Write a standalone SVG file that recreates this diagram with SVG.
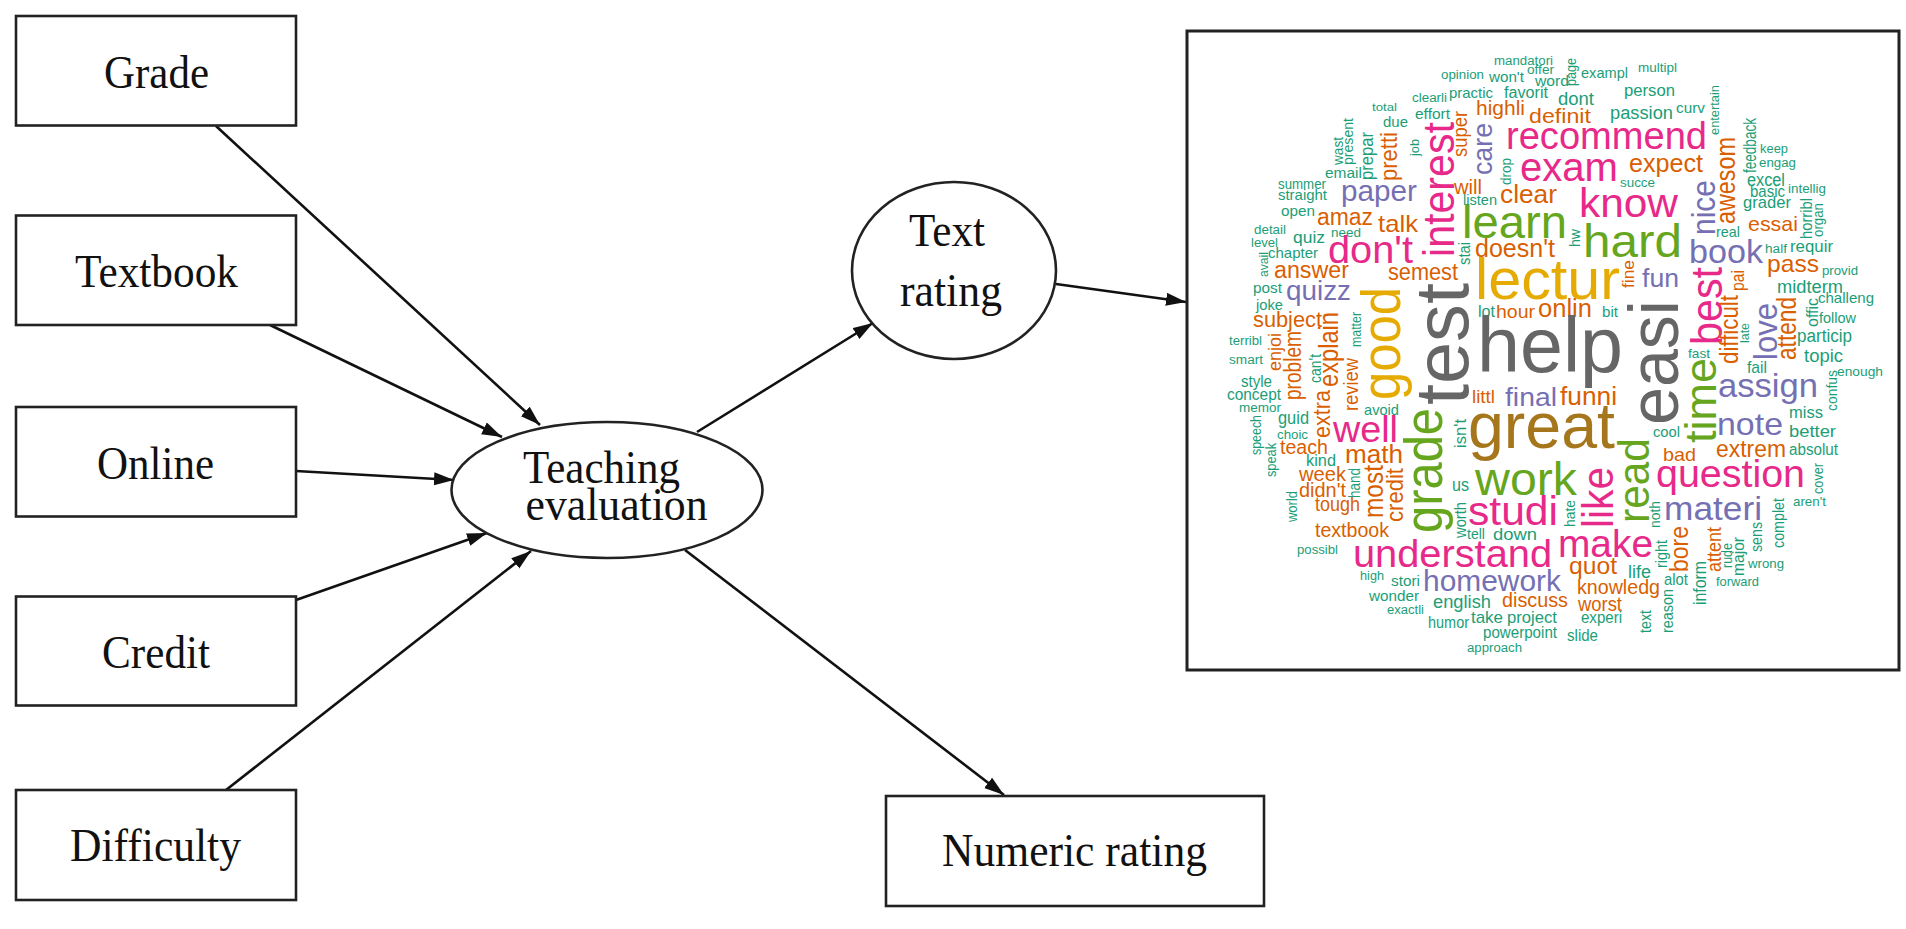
<svg xmlns="http://www.w3.org/2000/svg" width="1906" height="929" viewBox="0 0 1906 929">
<style>
.box{fill:#fff;stroke:#222;stroke-width:2.6}
.lab{font-family:"Liberation Serif","Times New Roman",serif;font-size:46px;fill:#111}
.edge{fill:none;stroke:#111;stroke-width:2.6;marker-end:url(#arrow)}
#wordcloud text{font-family:"Liberation Sans",Arial,sans-serif}
.t{fill:#1B9E77}.o{fill:#D95F02}.p{fill:#7570B3}.k{fill:#E7298A}.g{fill:#66A61E}.y{fill:#E6AB02}.b{fill:#A6761D}.d{fill:#666666}
</style>
<defs>
<marker id="arrow" markerUnits="userSpaceOnUse" markerWidth="22" markerHeight="14" refX="20" refY="6.500" orient="auto"><path d="M0 0L20 6.500L0 13Z" fill="#111"/></marker>
</defs>
<rect width="1906" height="929" fill="#fff"/>
<g id="connectors">
<line class="edge" x1="216" y1="126" x2="540" y2="425"/>
<line class="edge" x1="270" y1="325" x2="502" y2="437"/>
<line class="edge" x1="296" y1="471" x2="454" y2="480"/>
<line class="edge" x1="296" y1="600" x2="487" y2="533"/>
<line class="edge" x1="226" y1="790" x2="531" y2="551"/>
<line class="edge" x1="697" y1="432" x2="873" y2="323"/>
<line class="edge" x1="1056" y1="284" x2="1186" y2="302"/>
<line class="edge" x1="685" y1="550" x2="1004" y2="795"/>
</g>
<g id="grade"><rect class="box" x="16" y="16" width="280" height="109.500"/><text class="lab" x="104" y="88" textLength="105" lengthAdjust="spacingAndGlyphs">Grade</text></g>
<g id="textbook"><rect class="box" x="16" y="215.500" width="280" height="109.500"/><text class="lab" x="75" y="287" textLength="163" lengthAdjust="spacingAndGlyphs">Textbook</text></g>
<g id="online"><rect class="box" x="16" y="407" width="280" height="109.500"/><text class="lab" x="97" y="479" textLength="117" lengthAdjust="spacingAndGlyphs">Online</text></g>
<g id="credit"><rect class="box" x="16" y="596.500" width="280" height="109"/><text class="lab" x="102" y="668" textLength="108" lengthAdjust="spacingAndGlyphs">Credit</text></g>
<g id="difficulty"><rect class="box" x="16" y="790" width="280" height="110"/><text class="lab" x="70" y="861" textLength="171" lengthAdjust="spacingAndGlyphs">Difficulty</text></g>
<g id="teaching-evaluation"><ellipse class="box" cx="607" cy="490" rx="155.500" ry="68"/><text class="lab" x="523" y="483" textLength="157" lengthAdjust="spacingAndGlyphs">Teaching</text><text class="lab" x="525.500" y="520" textLength="182" lengthAdjust="spacingAndGlyphs">evaluation</text></g>
<g id="text-rating"><ellipse class="box" cx="954" cy="270.500" rx="102" ry="88.500"/><text class="lab" x="909" y="246" textLength="76" lengthAdjust="spacingAndGlyphs">Text</text><text class="lab" x="900" y="306" textLength="102" lengthAdjust="spacingAndGlyphs">rating</text></g>
<g id="numeric-rating"><rect class="box" x="886" y="796" width="378" height="110"/><text class="lab" x="942" y="866" textLength="265" lengthAdjust="spacingAndGlyphs">Numeric rating</text></g>
<g id="wordcloud">
<rect x="1187" y="31" width="712" height="639" fill="#fff" stroke="#222" stroke-width="3"/>
<text class="t" x="1494" y="65" font-size="12.500" textLength="59" lengthAdjust="spacingAndGlyphs">mandatori</text>
<text class="t" x="1441" y="79" font-size="12" textLength="43" lengthAdjust="spacingAndGlyphs">opinion</text>
<text class="t" x="1489" y="82" font-size="15" textLength="35" lengthAdjust="spacingAndGlyphs">won't</text>
<text class="t" x="1527" y="74" font-size="12.500" textLength="27" lengthAdjust="spacingAndGlyphs">offer</text>
<text class="t" x="1535" y="86" font-size="15" textLength="34" lengthAdjust="spacingAndGlyphs">word</text>
<text class="t" x="1449" y="98" font-size="15" textLength="44" lengthAdjust="spacingAndGlyphs">practic</text>
<text class="t" x="1504" y="98" font-size="16" textLength="44" lengthAdjust="spacingAndGlyphs">favorit</text>
<text class="t" x="1412" y="102" font-size="12.500" textLength="35" lengthAdjust="spacingAndGlyphs">clearli</text>
<text class="t" x="1372" y="111" font-size="11.500" textLength="25" lengthAdjust="spacingAndGlyphs">total</text>
<text class="t" x="1415" y="119" font-size="15" textLength="35" lengthAdjust="spacingAndGlyphs">effort</text>
<text class="t" x="1383" y="127" font-size="15" textLength="25" lengthAdjust="spacingAndGlyphs">due</text>
<text class="o" x="1476" y="115" font-size="20" textLength="49" lengthAdjust="spacingAndGlyphs">highli</text>
<text class="o" x="1529" y="123" font-size="21" textLength="62" lengthAdjust="spacingAndGlyphs">definit</text>
<text class="k" x="1506" y="149" font-size="38" textLength="201" lengthAdjust="spacingAndGlyphs">recommend</text>
<text class="k" x="1520" y="181" font-size="40" textLength="98" lengthAdjust="spacingAndGlyphs">exam</text>
<text class="o" x="1629" y="172" font-size="25" textLength="74" lengthAdjust="spacingAndGlyphs">expect</text>
<text class="t" x="1558" y="105" font-size="18" textLength="36" lengthAdjust="spacingAndGlyphs">dont</text>
<text class="t" x="1610" y="119" font-size="18" textLength="63" lengthAdjust="spacingAndGlyphs">passion</text>
<text class="t" x="1624" y="96" font-size="17" textLength="51" lengthAdjust="spacingAndGlyphs">person</text>
<text class="t" x="1676" y="113" font-size="15" textLength="29" lengthAdjust="spacingAndGlyphs">curv</text>
<text class="t" x="1581" y="78" font-size="15" textLength="47" lengthAdjust="spacingAndGlyphs">exampl</text>
<text class="t" x="1638" y="72" font-size="12.500" textLength="39" lengthAdjust="spacingAndGlyphs">multipl</text>
<text class="t" x="1620" y="187" font-size="12" textLength="35" lengthAdjust="spacingAndGlyphs">succe</text>
<text class="t" x="1760" y="153" font-size="12" textLength="28" lengthAdjust="spacingAndGlyphs">keep</text>
<text class="t" x="1759" y="167" font-size="12" textLength="37" lengthAdjust="spacingAndGlyphs">engag</text>
<text class="t" x="1747" y="186" font-size="18" textLength="38" lengthAdjust="spacingAndGlyphs">excel</text>
<text class="t" x="1750" y="197" font-size="16" textLength="35" lengthAdjust="spacingAndGlyphs">basic</text>
<text class="t" x="1743" y="208" font-size="17" textLength="48" lengthAdjust="spacingAndGlyphs">grader</text>
<text class="t" x="1788" y="193" font-size="12.500" textLength="38" lengthAdjust="spacingAndGlyphs">intellig</text>
<text class="o" x="1748" y="231" font-size="21" textLength="50" lengthAdjust="spacingAndGlyphs">essai</text>
<text class="t" x="1716" y="237" font-size="15" textLength="24" lengthAdjust="spacingAndGlyphs">real</text>
<text class="t" x="1765" y="253" font-size="12.500" textLength="22" lengthAdjust="spacingAndGlyphs">half</text>
<text class="t" x="1790" y="252" font-size="17" textLength="43" lengthAdjust="spacingAndGlyphs">requir</text>
<text class="p" x="1689" y="263" font-size="33" textLength="74" lengthAdjust="spacingAndGlyphs">book</text>
<text class="o" x="1767" y="272" font-size="24" textLength="52" lengthAdjust="spacingAndGlyphs">pass</text>
<text class="t" x="1822" y="275" font-size="12.500" textLength="36" lengthAdjust="spacingAndGlyphs">provid</text>
<text class="t" x="1777" y="293" font-size="18" textLength="66" lengthAdjust="spacingAndGlyphs">midterm</text>
<text class="t" x="1818" y="303" font-size="15" textLength="56" lengthAdjust="spacingAndGlyphs">challeng</text>
<text class="t" x="1819" y="323" font-size="15" textLength="37" lengthAdjust="spacingAndGlyphs">follow</text>
<text class="t" x="1797" y="342" font-size="18" textLength="55" lengthAdjust="spacingAndGlyphs">particip</text>
<text class="g" x="1583" y="257" font-size="46" textLength="99" lengthAdjust="spacingAndGlyphs">hard</text>
<text class="k" x="1579" y="217" font-size="40" textLength="99" lengthAdjust="spacingAndGlyphs">know</text>
<text class="p" x="1642" y="287" font-size="26" textLength="37" lengthAdjust="spacingAndGlyphs">fun</text>
<text class="t" x="1602" y="317" font-size="15" textLength="16" lengthAdjust="spacingAndGlyphs">bit</text>
<text class="o" x="1538" y="317" font-size="25" textLength="54" lengthAdjust="spacingAndGlyphs">onlin</text>
<text class="y" x="1475" y="299" font-size="58" textLength="145" lengthAdjust="spacingAndGlyphs">lectur</text>
<text class="o" x="1475" y="257" font-size="25" textLength="80" lengthAdjust="spacingAndGlyphs">doesn't</text>
<text class="g" x="1462" y="238" font-size="46" textLength="105" lengthAdjust="spacingAndGlyphs">learn</text>
<text class="o" x="1500" y="203" font-size="26" textLength="57" lengthAdjust="spacingAndGlyphs">clear</text>
<text class="o" x="1454" y="194" font-size="20" textLength="28" lengthAdjust="spacingAndGlyphs">will</text>
<text class="t" x="1463" y="205" font-size="15" textLength="34" lengthAdjust="spacingAndGlyphs">listen</text>
<text class="p" x="1341" y="201" font-size="30" textLength="76" lengthAdjust="spacingAndGlyphs">paper</text>
<text class="t" x="1325" y="178" font-size="15" textLength="37" lengthAdjust="spacingAndGlyphs">email</text>
<text class="t" x="1278" y="189" font-size="14" textLength="48" lengthAdjust="spacingAndGlyphs">summer</text>
<text class="t" x="1278" y="200" font-size="15" textLength="49" lengthAdjust="spacingAndGlyphs">straight</text>
<text class="t" x="1281" y="216" font-size="15" textLength="34" lengthAdjust="spacingAndGlyphs">open</text>
<text class="o" x="1317" y="225" font-size="23" textLength="56" lengthAdjust="spacingAndGlyphs">amaz</text>
<text class="o" x="1378" y="232" font-size="24" textLength="40" lengthAdjust="spacingAndGlyphs">talk</text>
<text class="t" x="1254" y="234" font-size="12" textLength="32" lengthAdjust="spacingAndGlyphs">detail</text>
<text class="t" x="1251" y="247" font-size="12" textLength="27" lengthAdjust="spacingAndGlyphs">level</text>
<text class="t" x="1293" y="243" font-size="17" textLength="32" lengthAdjust="spacingAndGlyphs">quiz</text>
<text class="t" x="1331" y="237" font-size="12" textLength="30" lengthAdjust="spacingAndGlyphs">need</text>
<text class="t" x="1268" y="258" font-size="15" textLength="50" lengthAdjust="spacingAndGlyphs">chapter</text>
<text class="k" x="1328" y="263" font-size="39" textLength="85" lengthAdjust="spacingAndGlyphs">don't</text>
<text class="o" x="1274" y="278" font-size="23" textLength="75" lengthAdjust="spacingAndGlyphs">answer</text>
<text class="o" x="1388" y="280" font-size="23" textLength="70" lengthAdjust="spacingAndGlyphs">semest</text>
<text class="t" x="1253" y="293" font-size="15" textLength="29" lengthAdjust="spacingAndGlyphs">post</text>
<text class="p" x="1286" y="300" font-size="27" textLength="65" lengthAdjust="spacingAndGlyphs">quizz</text>
<text class="t" x="1256" y="310" font-size="15" textLength="27" lengthAdjust="spacingAndGlyphs">joke</text>
<text class="t" x="1478" y="317" font-size="17" textLength="17" lengthAdjust="spacingAndGlyphs">lot</text>
<text class="o" x="1496" y="318" font-size="18" textLength="39" lengthAdjust="spacingAndGlyphs">hour</text>
<text class="o" x="1253" y="327" font-size="22" textLength="69" lengthAdjust="spacingAndGlyphs">subject</text>
<text class="t" x="1229" y="345" font-size="12" textLength="33" lengthAdjust="spacingAndGlyphs">terribl</text>
<text class="t" x="1229" y="364" font-size="12" textLength="34" lengthAdjust="spacingAndGlyphs">smart</text>
<text class="t" x="1241" y="387" font-size="16" textLength="31" lengthAdjust="spacingAndGlyphs">style</text>
<text class="t" x="1227" y="400" font-size="16" textLength="54" lengthAdjust="spacingAndGlyphs">concept</text>
<text class="t" x="1239" y="412" font-size="12" textLength="42" lengthAdjust="spacingAndGlyphs">memor</text>
<text class="t" x="1278" y="424" font-size="18" textLength="31" lengthAdjust="spacingAndGlyphs">guid</text>
<text class="t" x="1277" y="439" font-size="12.500" textLength="31" lengthAdjust="spacingAndGlyphs">choic</text>
<text class="t" x="1364" y="415" font-size="15" textLength="35" lengthAdjust="spacingAndGlyphs">avoid</text>
<text class="o" x="1472" y="403" font-size="18" textLength="23" lengthAdjust="spacingAndGlyphs">littl</text>
<text class="p" x="1505" y="406" font-size="26" textLength="52" lengthAdjust="spacingAndGlyphs">final</text>
<text class="k" x="1333" y="442" font-size="36" textLength="65" lengthAdjust="spacingAndGlyphs">well</text>
<text class="o" x="1280" y="454" font-size="20" textLength="48" lengthAdjust="spacingAndGlyphs">teach</text>
<text class="t" x="1306" y="466" font-size="17" textLength="30" lengthAdjust="spacingAndGlyphs">kind</text>
<text class="o" x="1345" y="463" font-size="25" textLength="58" lengthAdjust="spacingAndGlyphs">math</text>
<text class="o" x="1299" y="481" font-size="20" textLength="47" lengthAdjust="spacingAndGlyphs">week</text>
<text class="o" x="1299" y="497" font-size="20" textLength="47" lengthAdjust="spacingAndGlyphs">didn't</text>
<text class="o" x="1315" y="511" font-size="20" textLength="45" lengthAdjust="spacingAndGlyphs">tough</text>
<text class="o" x="1315" y="537" font-size="21" textLength="74" lengthAdjust="spacingAndGlyphs">textbook</text>
<text class="t" x="1297" y="554" font-size="12.500" textLength="41" lengthAdjust="spacingAndGlyphs">possibl</text>
<text class="k" x="1353" y="567" font-size="38" textLength="199" lengthAdjust="spacingAndGlyphs">understand</text>
<text class="t" x="1360" y="580" font-size="12.500" textLength="24" lengthAdjust="spacingAndGlyphs">high</text>
<text class="t" x="1391" y="586" font-size="15" textLength="29" lengthAdjust="spacingAndGlyphs">stori</text>
<text class="p" x="1423" y="591" font-size="29" textLength="138" lengthAdjust="spacingAndGlyphs">homework</text>
<text class="t" x="1369" y="601" font-size="15.500" textLength="50" lengthAdjust="spacingAndGlyphs">wonder</text>
<text class="t" x="1387" y="614" font-size="12.500" textLength="37" lengthAdjust="spacingAndGlyphs">exactli</text>
<text class="t" x="1433" y="608" font-size="18" textLength="58" lengthAdjust="spacingAndGlyphs">english</text>
<text class="o" x="1502" y="607" font-size="20" textLength="66" lengthAdjust="spacingAndGlyphs">discuss</text>
<text class="t" x="1428" y="628" font-size="16" textLength="41" lengthAdjust="spacingAndGlyphs">humor</text>
<text class="t" x="1471" y="623" font-size="17" textLength="32" lengthAdjust="spacingAndGlyphs">take</text>
<text class="t" x="1507" y="623" font-size="17" textLength="50" lengthAdjust="spacingAndGlyphs">project</text>
<text class="t" x="1483" y="638" font-size="17" textLength="74" lengthAdjust="spacingAndGlyphs">powerpoint</text>
<text class="t" x="1467" y="652" font-size="12.500" textLength="55" lengthAdjust="spacingAndGlyphs">approach</text>
<text class="t" x="1467" y="539" font-size="14" textLength="18" lengthAdjust="spacingAndGlyphs">tell</text>
<text class="t" x="1493" y="540" font-size="17" textLength="44" lengthAdjust="spacingAndGlyphs">down</text>
<text class="t" x="1452" y="491" font-size="19" textLength="17" lengthAdjust="spacingAndGlyphs">us</text>
<text class="k" x="1468" y="525" font-size="40" textLength="90" lengthAdjust="spacingAndGlyphs">studi</text>
<text class="g" x="1475" y="495" font-size="46" textLength="102" lengthAdjust="spacingAndGlyphs">work</text>
<text class="b" x="1468" y="448" font-size="64" textLength="147" lengthAdjust="spacingAndGlyphs">great</text>
<text class="d" x="1477" y="372" font-size="77" textLength="146" lengthAdjust="spacingAndGlyphs">help</text>
<text class="t" x="1688" y="358" font-size="13" textLength="22" lengthAdjust="spacingAndGlyphs">fast</text>
<text class="t" x="1804" y="362" font-size="18" textLength="39" lengthAdjust="spacingAndGlyphs">topic</text>
<text class="t" x="1747" y="373" font-size="17" textLength="20" lengthAdjust="spacingAndGlyphs">fail</text>
<text class="t" x="1837" y="376" font-size="13.500" textLength="46" lengthAdjust="spacingAndGlyphs">enough</text>
<text class="p" x="1718" y="397" font-size="33" textLength="100" lengthAdjust="spacingAndGlyphs">assign</text>
<text class="o" x="1560" y="405" font-size="26" textLength="57" lengthAdjust="spacingAndGlyphs">funni</text>
<text class="t" x="1789" y="418" font-size="17" textLength="34" lengthAdjust="spacingAndGlyphs">miss</text>
<text class="p" x="1717" y="435" font-size="32" textLength="66" lengthAdjust="spacingAndGlyphs">note</text>
<text class="t" x="1789" y="437" font-size="17" textLength="47" lengthAdjust="spacingAndGlyphs">better</text>
<text class="t" x="1653" y="437" font-size="15" textLength="27" lengthAdjust="spacingAndGlyphs">cool</text>
<text class="t" x="1789" y="455" font-size="16" textLength="49" lengthAdjust="spacingAndGlyphs">absolut</text>
<text class="o" x="1716" y="457" font-size="23" textLength="70" lengthAdjust="spacingAndGlyphs">extrem</text>
<text class="o" x="1663" y="461" font-size="19" textLength="33" lengthAdjust="spacingAndGlyphs">bad</text>
<text class="k" x="1656" y="487" font-size="38" textLength="149" lengthAdjust="spacingAndGlyphs">question</text>
<text class="p" x="1664" y="520" font-size="33" textLength="98" lengthAdjust="spacingAndGlyphs">materi</text>
<text class="t" x="1793" y="506" font-size="13" textLength="33" lengthAdjust="spacingAndGlyphs">aren't</text>
<text class="k" x="1558" y="557" font-size="38" textLength="95" lengthAdjust="spacingAndGlyphs">make</text>
<text class="o" x="1569" y="574" font-size="24" textLength="48" lengthAdjust="spacingAndGlyphs">quot</text>
<text class="t" x="1628" y="578" font-size="18" textLength="23" lengthAdjust="spacingAndGlyphs">life</text>
<text class="o" x="1577" y="594" font-size="21" textLength="83" lengthAdjust="spacingAndGlyphs">knowledg</text>
<text class="t" x="1664" y="585" font-size="17" textLength="24" lengthAdjust="spacingAndGlyphs">alot</text>
<text class="t" x="1748" y="568" font-size="13" textLength="36" lengthAdjust="spacingAndGlyphs">wrong</text>
<text class="t" x="1716" y="586" font-size="13.500" textLength="43" lengthAdjust="spacingAndGlyphs">forward</text>
<text class="o" x="1578" y="611" font-size="20" textLength="44" lengthAdjust="spacingAndGlyphs">worst</text>
<text class="t" x="1581" y="623" font-size="16" textLength="41" lengthAdjust="spacingAndGlyphs">experi</text>
<text class="t" x="1567" y="641" font-size="16" textLength="31" lengthAdjust="spacingAndGlyphs">slide</text>
<text class="t" x="1343" y="165" font-size="14" textLength="28" lengthAdjust="spacingAndGlyphs" transform="rotate(-90 1343 165)">wast</text>
<text class="t" x="1353" y="165" font-size="15" textLength="47" lengthAdjust="spacingAndGlyphs" transform="rotate(-90 1353 165)">present</text>
<text class="t" x="1373" y="180" font-size="19" textLength="48" lengthAdjust="spacingAndGlyphs" transform="rotate(-90 1373 180)">prepar</text>
<text class="o" x="1397" y="181" font-size="24" textLength="49" lengthAdjust="spacingAndGlyphs" transform="rotate(-90 1397 181)">pretti</text>
<text class="t" x="1419" y="156" font-size="13" textLength="17" lengthAdjust="spacingAndGlyphs" transform="rotate(-90 1419 156)">job</text>
<text class="k" x="1454" y="257" font-size="44" textLength="135" lengthAdjust="spacingAndGlyphs" transform="rotate(-90 1454 257)">interest</text>
<text class="o" x="1467" y="157" font-size="21" textLength="46" lengthAdjust="spacingAndGlyphs" transform="rotate(-90 1467 157)">super</text>
<text class="p" x="1492" y="175" font-size="27" textLength="52" lengthAdjust="spacingAndGlyphs" transform="rotate(-90 1492 175)">care</text>
<text class="t" x="1511" y="185" font-size="15" textLength="27" lengthAdjust="spacingAndGlyphs" transform="rotate(-90 1511 185)">drop</text>
<text class="t" x="1470" y="265" font-size="16" textLength="23" lengthAdjust="spacingAndGlyphs" transform="rotate(-90 1470 265)">stai</text>
<text class="t" x="1268" y="277" font-size="13" textLength="25" lengthAdjust="spacingAndGlyphs" transform="rotate(-90 1268 277)">avail</text>
<text class="t" x="1361" y="347" font-size="14" textLength="35" lengthAdjust="spacingAndGlyphs" transform="rotate(-90 1361 347)">matter</text>
<text class="o" x="1281" y="371" font-size="18" textLength="38" lengthAdjust="spacingAndGlyphs" transform="rotate(-90 1281 371)">enjoi</text>
<text class="o" x="1301" y="400" font-size="23" textLength="69" lengthAdjust="spacingAndGlyphs" transform="rotate(-90 1301 400)">problem</text>
<text class="o" x="1338" y="387" font-size="27" textLength="75" lengthAdjust="spacingAndGlyphs" transform="rotate(-90 1338 387)">explain</text>
<text class="t" x="1321" y="383" font-size="16" textLength="29" lengthAdjust="spacingAndGlyphs" transform="rotate(-90 1321 383)">can't</text>
<text class="o" x="1358" y="411" font-size="21" textLength="53" lengthAdjust="spacingAndGlyphs" transform="rotate(-90 1358 411)">review</text>
<text class="o" x="1330" y="438" font-size="23" textLength="48" lengthAdjust="spacingAndGlyphs" transform="rotate(-90 1330 438)">extra</text>
<text class="t" x="1261" y="455" font-size="14.500" textLength="40" lengthAdjust="spacingAndGlyphs" transform="rotate(-90 1261 455)">speech</text>
<text class="t" x="1276" y="477" font-size="14" textLength="34" lengthAdjust="spacingAndGlyphs" transform="rotate(-90 1276 477)">speak</text>
<text class="t" x="1466" y="448" font-size="17" textLength="29" lengthAdjust="spacingAndGlyphs" transform="rotate(-90 1466 448)">isn't</text>
<text class="y" x="1400" y="400" font-size="55" textLength="113" lengthAdjust="spacingAndGlyphs" transform="rotate(-90 1400 400)">good</text>
<text class="d" x="1468" y="405" font-size="76" textLength="122" lengthAdjust="spacingAndGlyphs" transform="rotate(-90 1468 405)">test</text>
<text class="g" x="1442" y="533" font-size="54" textLength="125" lengthAdjust="spacingAndGlyphs" transform="rotate(-90 1442 533)">grade</text>
<text class="o" x="1383" y="518" font-size="28" textLength="53" lengthAdjust="spacingAndGlyphs" transform="rotate(-90 1383 518)">most</text>
<text class="o" x="1403" y="522" font-size="24" textLength="54" lengthAdjust="spacingAndGlyphs" transform="rotate(-90 1403 522)">credit</text>
<text class="t" x="1360" y="498" font-size="16" textLength="30" lengthAdjust="spacingAndGlyphs" transform="rotate(-90 1360 498)">hand</text>
<text class="t" x="1297" y="522" font-size="14" textLength="31" lengthAdjust="spacingAndGlyphs" transform="rotate(-90 1297 522)">world</text>
<text class="t" x="1466" y="538" font-size="16" textLength="36" lengthAdjust="spacingAndGlyphs" transform="rotate(-90 1466 538)">worth</text>
<text class="t" x="1576" y="86" font-size="14" textLength="28" lengthAdjust="spacingAndGlyphs" transform="rotate(-90 1576 86)">page</text>
<text class="t" x="1719" y="135" font-size="13.500" textLength="50" lengthAdjust="spacingAndGlyphs" transform="rotate(-90 1719 135)">entertain</text>
<text class="o" x="1735" y="224" font-size="28" textLength="87" lengthAdjust="spacingAndGlyphs" transform="rotate(-90 1735 224)">awesom</text>
<text class="t" x="1756" y="173" font-size="18" textLength="55" lengthAdjust="spacingAndGlyphs" transform="rotate(-90 1756 173)">feedback</text>
<text class="p" x="1715" y="235" font-size="33" textLength="55" lengthAdjust="spacingAndGlyphs" transform="rotate(-90 1715 235)">nice</text>
<text class="t" x="1812" y="239" font-size="16" textLength="41" lengthAdjust="spacingAndGlyphs" transform="rotate(-90 1812 239)">horribl</text>
<text class="t" x="1823" y="237" font-size="14" textLength="34" lengthAdjust="spacingAndGlyphs" transform="rotate(-90 1823 237)">organ</text>
<text class="t" x="1580" y="247" font-size="15" textLength="18" lengthAdjust="spacingAndGlyphs" transform="rotate(-90 1580 247)">hw</text>
<text class="o" x="1634" y="288" font-size="17" textLength="28" lengthAdjust="spacingAndGlyphs" transform="rotate(-90 1634 288)">fine</text>
<text class="o" x="1744" y="291" font-size="18" textLength="21" lengthAdjust="spacingAndGlyphs" transform="rotate(-90 1744 291)">pai</text>
<text class="k" x="1722" y="345" font-size="45" textLength="78" lengthAdjust="spacingAndGlyphs" transform="rotate(-90 1722 345)">best</text>
<text class="o" x="1738" y="364" font-size="25" textLength="69" lengthAdjust="spacingAndGlyphs" transform="rotate(-90 1738 364)">difficult</text>
<text class="t" x="1749" y="343" font-size="13.500" textLength="20" lengthAdjust="spacingAndGlyphs" transform="rotate(-90 1749 343)">late</text>
<text class="p" x="1777" y="360" font-size="34" textLength="57" lengthAdjust="spacingAndGlyphs" transform="rotate(-90 1777 360)">love</text>
<text class="o" x="1796" y="360" font-size="27" textLength="63" lengthAdjust="spacingAndGlyphs" transform="rotate(-90 1796 360)">attend</text>
<text class="t" x="1818" y="327" font-size="17" textLength="29" lengthAdjust="spacingAndGlyphs" transform="rotate(-90 1818 327)">offic</text>
<text class="g" x="1716" y="443" font-size="45" textLength="85" lengthAdjust="spacingAndGlyphs" transform="rotate(-90 1716 443)">time</text>
<text class="d" x="1678" y="425" font-size="70" textLength="125" lengthAdjust="spacingAndGlyphs" transform="rotate(-90 1678 425)">easi</text>
<text class="g" x="1649" y="523" font-size="44" textLength="85" lengthAdjust="spacingAndGlyphs" transform="rotate(-90 1649 523)">read</text>
<text class="k" x="1613" y="528" font-size="45" textLength="61" lengthAdjust="spacingAndGlyphs" transform="rotate(-90 1613 528)">like</text>
<text class="t" x="1575" y="527" font-size="15" textLength="27" lengthAdjust="spacingAndGlyphs" transform="rotate(-90 1575 527)">hate</text>
<text class="t" x="1660" y="528" font-size="15" textLength="27" lengthAdjust="spacingAndGlyphs" transform="rotate(-90 1660 528)">noth</text>
<text class="t" x="1837" y="411" font-size="15" textLength="41" lengthAdjust="spacingAndGlyphs" transform="rotate(-90 1837 411)">confus</text>
<text class="t" x="1823" y="494" font-size="14" textLength="31" lengthAdjust="spacingAndGlyphs" transform="rotate(-90 1823 494)">cover</text>
<text class="t" x="1784" y="548" font-size="16" textLength="50" lengthAdjust="spacingAndGlyphs" transform="rotate(-90 1784 548)">complet</text>
<text class="t" x="1762" y="552" font-size="16" textLength="30" lengthAdjust="spacingAndGlyphs" transform="rotate(-90 1762 552)">sens</text>
<text class="t" x="1744" y="576" font-size="17" textLength="39" lengthAdjust="spacingAndGlyphs" transform="rotate(-90 1744 576)">major</text>
<text class="t" x="1732" y="568" font-size="14" textLength="25" lengthAdjust="spacingAndGlyphs" transform="rotate(-90 1732 568)">rude</text>
<text class="o" x="1721" y="572" font-size="21" textLength="45" lengthAdjust="spacingAndGlyphs" transform="rotate(-90 1721 572)">attent</text>
<text class="t" x="1706" y="605" font-size="18" textLength="44" lengthAdjust="spacingAndGlyphs" transform="rotate(-90 1706 605)">inform</text>
<text class="o" x="1688" y="572" font-size="26" textLength="46" lengthAdjust="spacingAndGlyphs" transform="rotate(-90 1688 572)">bore</text>
<text class="t" x="1667" y="568" font-size="16" textLength="28" lengthAdjust="spacingAndGlyphs" transform="rotate(-90 1667 568)">right</text>
<text class="t" x="1673" y="633" font-size="16" textLength="44" lengthAdjust="spacingAndGlyphs" transform="rotate(-90 1673 633)">reason</text>
<text class="t" x="1651" y="633" font-size="17" textLength="23" lengthAdjust="spacingAndGlyphs" transform="rotate(-90 1651 633)">text</text>
</g>
</svg>
